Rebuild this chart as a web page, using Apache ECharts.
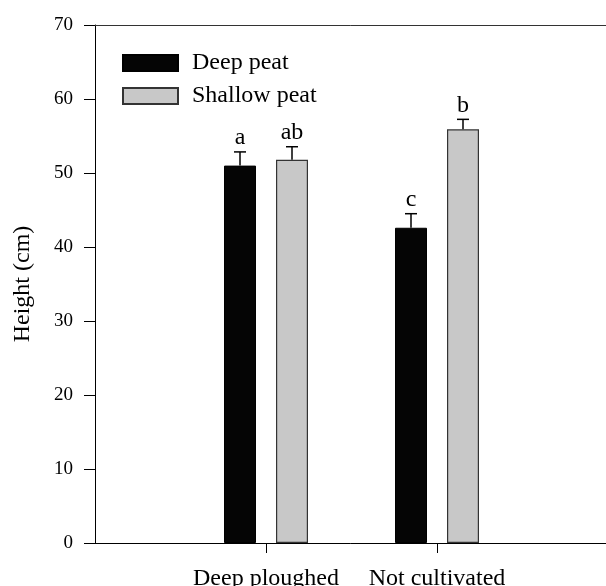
<!DOCTYPE html>
<html>
<head>
<meta charset="utf-8">
<script src="https://cdn.jsdelivr.net/npm/echarts@6/dist/echarts.min.js"></script>
<style>html,body{margin:0;padding:0;background:#fff}#c{width:606px;height:586px}</style>
</head>
<body>
<div id="c"></div>
<script>
const categories = ['Deep ploughed', 'Not cultivated'];
const seriesNames = ['Deep peat', 'Shallow peat'];
const deepPeat = [51.0, 42.6];
const deepPeatErr = [1.85, 1.9];
const shallowPeat = [51.8, 55.9];
const shallowPeatErr = [1.75, 1.35];
const deepLetters = ['a', 'c'];
const shallowLetters = ['ab', 'b'];
const yMin = 0, yMax = 70, yInterval = 10;

const FONT = '"Liberation Serif", "Times New Roman", serif';
const BAR_W = 32, BAR_GAP = 20;
const OFFSET = (BAR_W + BAR_GAP) / 2;

const axisData = ['', ...categories, ''];
const pad = arr => [null, ...arr, null];

function errSeries(vals, errs, letters, dx) {
  return {
    type: 'custom',
    z: 5,
    data: vals.map((v, i) => [i + 1, v, errs[i]]),
    renderItem: function (params, api) {
      const x = api.value(0), m = api.value(1), e = api.value(2);
      const top = api.coord([x, m + e]);
      const base = api.coord([x, m]);
      const px = top[0] + dx;
      const st = { stroke: '#000', lineWidth: 1.5 };
      return {
        type: 'group',
        children: [
          { type: 'line', shape: { x1: px, y1: base[1], x2: px, y2: top[1] }, style: st },
          { type: 'line', shape: { x1: px - 6, y1: top[1], x2: px + 6, y2: top[1] }, style: st },
          { type: 'text', style: { text: letters[params.dataIndex], x: px, y: top[1] - 2,
              textAlign: 'center', textVerticalAlign: 'bottom', font: '24px ' + FONT, fill: '#000' } }
        ]
      };
    }
  };
}

const chart = echarts.init(document.getElementById('c'));
chart.setOption({
  animation: false,
  backgroundColor: '#fff',
  grid: { left: 95, top: 25, bottom: 43, right: -2, containLabel: false, outerBoundsMode: 'none' },
  legend: {
    data: seriesNames,
    orient: 'vertical',
    left: 117, top: 46,
    itemWidth: 55, itemHeight: 16, itemGap: 9,
    icon: 'rect',
    textStyle: { fontFamily: FONT, fontSize: 24, color: '#000', padding: [0, 0, 0, 9] }
  },
  xAxis: [{
    type: 'category',
    data: axisData,
    boundaryGap: false,
    axisLine: { lineStyle: { color: '#000', width: 1 } },
    axisTick: { show: true, length: 10, interval: (i) => i > 0 && i < axisData.length - 1, lineStyle: { color: '#000' } },
    axisLabel: { fontFamily: FONT, fontSize: 24, color: '#000', margin: 24, interval: 0 },
    splitLine: { show: false }
  }, {
    type: 'category',
    data: axisData,
    boundaryGap: false,
    position: 'top',
    axisLine: { lineStyle: { color: '#333', width: 1 } },
    axisTick: { show: false },
    axisLabel: { show: false },
    splitLine: { show: false }
  }],
  yAxis: {
    type: 'value',
    min: yMin, max: yMax, interval: yInterval,
    name: 'Height (cm)',
    nameLocation: 'middle',
    nameGap: 60,
    nameTextStyle: { fontFamily: FONT, fontSize: 24, color: '#000' },
    axisLine: { show: true, lineStyle: { color: '#000', width: 1 } },
    axisTick: { show: true, length: 11, lineStyle: { color: '#000' } },
    axisLabel: { fontFamily: FONT, fontSize: 19, color: '#000', margin: 22 },
    splitLine: { show: false }
  },
  series: [
    { name: seriesNames[0], type: 'bar', data: pad(deepPeat), barWidth: BAR_W, barGap: (BAR_GAP / BAR_W * 100) + '%',
      itemStyle: { color: '#050505', borderColor: '#000', borderWidth: 1 } },
    { name: seriesNames[1], type: 'bar', data: pad(shallowPeat), barWidth: BAR_W, barGap: (BAR_GAP / BAR_W * 100) + '%',
      itemStyle: { color: '#c8c8c8', borderColor: '#333', borderWidth: 1.2 } },
    errSeries(deepPeat, deepPeatErr, deepLetters, -OFFSET),
    errSeries(shallowPeat, shallowPeatErr, shallowLetters, OFFSET)
  ]
});
</script>
</body>
</html>
